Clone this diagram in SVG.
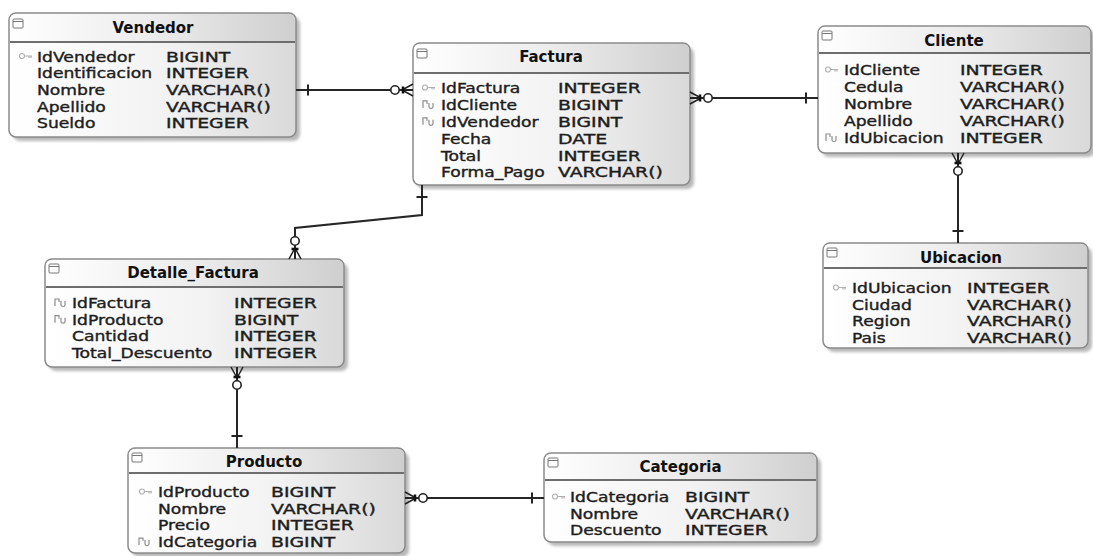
<svg xmlns="http://www.w3.org/2000/svg" xmlns:xlink="http://www.w3.org/1999/xlink" width="1093" height="556" viewBox="0 0 1093 556">
  <defs>
    <linearGradient id="boxFill" x1="0" y1="0" x2="1" y2="0">
      <stop offset="0" stop-color="#ffffff"/>
      <stop offset="0.55" stop-color="#f2f2f2"/>
      <stop offset="1" stop-color="#d9d9d9"/>
    </linearGradient>
    <linearGradient id="headFill" x1="0" y1="0" x2="1" y2="0">
      <stop offset="0" stop-color="#ffffff"/>
      <stop offset="0.5" stop-color="#ececec"/>
      <stop offset="1" stop-color="#cfcfcf"/>
    </linearGradient>
    <filter id="soft" x="-5%" y="-5%" width="110%" height="115%">
      <feGaussianBlur stdDeviation="1.4"/>
    </filter>
    <!-- table window icon -->
    <g id="tblIcon">
      <rect x="0" y="0" width="10" height="9" rx="1" fill="#fff" stroke="#777" stroke-width="1"/>
      <line x1="0" y1="2.5" x2="10" y2="2.5" stroke="#777" stroke-width="1"/>
    </g>
    <!-- primary key icon -->
    <g id="pk" fill="none" stroke="#b0b0b0" stroke-width="1.2">
      <circle cx="3" cy="-5.5" r="2.5"/>
      <path d="M5.5,-5.5 H13 M10,-5.5 V-3.5 M12,-5.5 V-3.5"/>
    </g>
    <!-- foreign key icon -->
    <g id="fk" fill="none" stroke="#8c8c8c" stroke-width="1.2">
      <path d="M1,-2 V-9 H5 V-6"/>
      <path d="M7,-7 V-3 Q7,-1.5 9,-1.5 Q11,-1.5 11,-3 V-7"/>
    </g>
    <!-- zero-or-many end: edge at x=0, connector runs toward -x -->
    <g id="many">
      <path d="M-11,0 L0,-6 M-11,0 L0,0 M-11,0 L0,6" fill="none" stroke="#222" stroke-width="1.5"/>
      <line x1="-10" y1="-3.5" x2="-10" y2="3.5" stroke="#111" stroke-width="2.6"/>
      <circle cx="-18" cy="0" r="4.2" fill="#fff" stroke="#222" stroke-width="1.6"/>
    </g>
    <!-- exactly-one end -->
    <g id="one">
      <line x1="-12" y1="-5.5" x2="-12" y2="5.5" stroke="#222" stroke-width="2"/>
    </g>
  </defs>

  <style>
    .shadow { fill: #b8b8b8; filter: url(#soft); }
    .body { fill: url(#boxFill); stroke: #8a8a8a; stroke-width: 1.5; }
    .head { fill: url(#headFill); }
    .sep { stroke: #6e6e6e; stroke-width: 2; }
    .title { font-family: "DejaVu Sans", Verdana, sans-serif; font-weight: bold; font-size: 15px; fill: #111; text-anchor: middle; }
    .col, .typ { font-family: "DejaVu Sans", Verdana, sans-serif; font-size: 14.3px; fill: #1e1e1e; stroke: #1e1e1e; stroke-width: 0.4; }
    .link { fill: none; stroke: #262626; stroke-width: 2; }
  </style>

  <!-- Vendedor -->
  <g id="vendedor" transform="translate(9,13)">
    <rect class="shadow" x="4" y="4" width="287" height="124" rx="7"/>
    <rect class="body" x="0" y="0" width="287" height="124" rx="7"/>
    <path class="head" d="M1,29 V7 Q1,1 7,1 H280 Q286,1 286,7 V29 Z"/>
    <line class="sep" x1="1" y1="29" x2="286" y2="29"/>
    <use xlink:href="#tblIcon" x="4" y="6"/>
    <text class="title" x="144" y="20">Vendedor</text>
    <use xlink:href="#pk" x="10" y="48.5"/>
    <text class="col" transform="translate(28,48.5) scale(1.2,1)"><tspan x="0" y="0">IdVendedor</tspan><tspan x="0" dy="16.7">Identificacion</tspan><tspan x="0" dy="16.7">Nombre</tspan><tspan x="0" dy="16.7">Apellido</tspan><tspan x="0" dy="16.7">Sueldo</tspan></text>
    <text class="typ" transform="translate(157,48.5) scale(1.32,1)"><tspan x="0" y="0">BIGINT</tspan><tspan x="0" dy="16.7">INTEGER</tspan><tspan x="0" dy="16.7">VARCHAR()</tspan><tspan x="0" dy="16.7">VARCHAR()</tspan><tspan x="0" dy="16.7">INTEGER</tspan></text>
  </g>

  <!-- Factura -->
  <g id="factura" transform="translate(413,43)">
    <rect class="shadow" x="4" y="4" width="277" height="142" rx="7"/>
    <rect class="body" x="0" y="0" width="277" height="142" rx="7"/>
    <path class="head" d="M1,30 V7 Q1,1 7,1 H270 Q276,1 276,7 V30 Z"/>
    <line class="sep" x1="1" y1="30" x2="276" y2="30"/>
    <use xlink:href="#tblIcon" x="4" y="6"/>
    <text class="title" x="138" y="19">Factura</text>
    <use xlink:href="#pk" x="9" y="50"/>
    <use xlink:href="#fk" x="9" y="66.9"/>
    <use xlink:href="#fk" x="9" y="83.8"/>
    <text class="col" transform="translate(28,50) scale(1.2,1)"><tspan x="0" y="0">IdFactura</tspan><tspan x="0" dy="16.9">IdCliente</tspan><tspan x="0" dy="16.9">IdVendedor</tspan><tspan x="0" dy="16.9">Fecha</tspan><tspan x="0" dy="16.9">Total</tspan><tspan x="0" dy="16.9">Forma_Pago</tspan></text>
    <text class="typ" transform="translate(145,50) scale(1.32,1)"><tspan x="0" y="0">INTEGER</tspan><tspan x="0" dy="16.9">BIGINT</tspan><tspan x="0" dy="16.9">BIGINT</tspan><tspan x="0" dy="16.9">DATE</tspan><tspan x="0" dy="16.9">INTEGER</tspan><tspan x="0" dy="16.9">VARCHAR()</tspan></text>
  </g>

  <!-- Cliente -->
  <g id="cliente" transform="translate(818,26)">
    <rect class="shadow" x="4" y="4" width="273" height="127" rx="7"/>
    <rect class="body" x="0" y="0" width="273" height="127" rx="7"/>
    <path class="head" d="M1,27 V7 Q1,1 7,1 H266 Q272,1 272,7 V27 Z"/>
    <line class="sep" x1="1" y1="27" x2="272" y2="27"/>
    <use xlink:href="#tblIcon" x="4" y="5"/>
    <text class="title" x="136" y="20">Cliente</text>
    <use xlink:href="#pk" x="7" y="49"/>
    <use xlink:href="#fk" x="7" y="117"/>
    <text class="col" transform="translate(26,49) scale(1.2,1)"><tspan x="0" y="0">IdCliente</tspan><tspan x="0" dy="17">Cedula</tspan><tspan x="0" dy="17">Nombre</tspan><tspan x="0" dy="17">Apellido</tspan><tspan x="0" dy="17">IdUbicacion</tspan></text>
    <text class="typ" transform="translate(142,49) scale(1.32,1)"><tspan x="0" y="0">INTEGER</tspan><tspan x="0" dy="17">VARCHAR()</tspan><tspan x="0" dy="17">VARCHAR()</tspan><tspan x="0" dy="17">VARCHAR()</tspan><tspan x="0" dy="17">INTEGER</tspan></text>
  </g>

  <!-- Detalle_Factura -->
  <g id="detalle_factura" transform="translate(45,259)">
    <rect class="shadow" x="4" y="4" width="299" height="108" rx="7"/>
    <rect class="body" x="0" y="0" width="299" height="108" rx="7"/>
    <path class="head" d="M1,28 V7 Q1,1 7,1 H292 Q298,1 298,7 V28 Z"/>
    <line class="sep" x1="1" y1="28" x2="298" y2="28"/>
    <use xlink:href="#tblIcon" x="4" y="5"/>
    <text class="title" x="148" y="19">Detalle_Factura</text>
    <use xlink:href="#fk" x="9" y="49"/>
    <use xlink:href="#fk" x="9" y="65.7"/>
    <text class="col" transform="translate(27,49) scale(1.2,1)"><tspan x="0" y="0">IdFactura</tspan><tspan x="0" dy="16.7">IdProducto</tspan><tspan x="0" dy="16.7">Cantidad</tspan><tspan x="0" dy="16.7">Total_Descuento</tspan></text>
    <text class="typ" transform="translate(189,49) scale(1.32,1)"><tspan x="0" y="0">INTEGER</tspan><tspan x="0" dy="16.7">BIGINT</tspan><tspan x="0" dy="16.7">INTEGER</tspan><tspan x="0" dy="16.7">INTEGER</tspan></text>
  </g>

  <!-- Ubicacion -->
  <g id="ubicacion" transform="translate(823,243)">
    <rect class="shadow" x="4" y="4" width="265" height="105" rx="7"/>
    <rect class="body" x="0" y="0" width="265" height="105" rx="7"/>
    <path class="head" d="M1,25 V7 Q1,1 7,1 H258 Q264,1 264,7 V25 Z"/>
    <line class="sep" x1="1" y1="25" x2="264" y2="25"/>
    <use xlink:href="#tblIcon" x="4" y="5"/>
    <text class="title" x="138" y="19.5">Ubicacion</text>
    <use xlink:href="#pk" x="10" y="50"/>
    <text class="col" transform="translate(29,50) scale(1.2,1)"><tspan x="0" y="0">IdUbicacion</tspan><tspan x="0" dy="16.7">Ciudad</tspan><tspan x="0" dy="16.7">Region</tspan><tspan x="0" dy="16.7">Pais</tspan></text>
    <text class="typ" transform="translate(144,50) scale(1.32,1)"><tspan x="0" y="0">INTEGER</tspan><tspan x="0" dy="16.7">VARCHAR()</tspan><tspan x="0" dy="16.7">VARCHAR()</tspan><tspan x="0" dy="16.7">VARCHAR()</tspan></text>
  </g>

  <!-- Producto -->
  <g id="producto" transform="translate(128,448)">
    <rect class="shadow" x="4" y="4" width="277" height="105" rx="7"/>
    <rect class="body" x="0" y="0" width="277" height="105" rx="7"/>
    <path class="head" d="M1,25 V7 Q1,1 7,1 H270 Q276,1 276,7 V25 Z"/>
    <line class="sep" x1="1" y1="25" x2="276" y2="25"/>
    <use xlink:href="#tblIcon" x="4" y="5"/>
    <text class="title" x="136" y="19">Producto</text>
    <use xlink:href="#pk" x="11" y="49"/>
    <use xlink:href="#fk" x="10" y="99.1"/>
    <text class="col" transform="translate(30,49) scale(1.2,1)"><tspan x="0" y="0">IdProducto</tspan><tspan x="0" dy="16.7">Nombre</tspan><tspan x="0" dy="16.7">Precio</tspan><tspan x="0" dy="16.7">IdCategoria</tspan></text>
    <text class="typ" transform="translate(143,49) scale(1.32,1)"><tspan x="0" y="0">BIGINT</tspan><tspan x="0" dy="16.7">VARCHAR()</tspan><tspan x="0" dy="16.7">INTEGER</tspan><tspan x="0" dy="16.7">BIGINT</tspan></text>
  </g>

  <!-- Categoria -->
  <g id="categoria" transform="translate(544,453)">
    <rect class="shadow" x="4" y="4" width="273" height="89" rx="7"/>
    <rect class="body" x="0" y="0" width="273" height="89" rx="7"/>
    <path class="head" d="M1,27 V7 Q1,1 7,1 H266 Q272,1 272,7 V27 Z"/>
    <line class="sep" x1="1" y1="27" x2="272" y2="27"/>
    <use xlink:href="#tblIcon" x="4" y="5"/>
    <text class="title" x="136.5" y="19">Categoria</text>
    <use xlink:href="#pk" x="8" y="49"/>
    <text class="col" transform="translate(26,49) scale(1.2,1)"><tspan x="0" y="0">IdCategoria</tspan><tspan x="0" dy="16.7">Nombre</tspan><tspan x="0" dy="16.7">Descuento</tspan></text>
    <text class="typ" transform="translate(141,49) scale(1.32,1)"><tspan x="0" y="0">BIGINT</tspan><tspan x="0" dy="16.7">VARCHAR()</tspan><tspan x="0" dy="16.7">INTEGER</tspan></text>
  </g>

  <!-- Relationships -->
  <g id="connectors">
    <path class="link" d="M296,90 H413"/>
    <use xlink:href="#one" transform="translate(296,90) rotate(180)"/>
    <use xlink:href="#many" transform="translate(413,90)"/>

    <path class="link" d="M690,98 H818"/>
    <use xlink:href="#many" transform="translate(690,98) rotate(180)"/>
    <use xlink:href="#one" transform="translate(818,98)"/>

    <path class="link" d="M958,153 V243"/>
    <use xlink:href="#many" transform="translate(958,153) rotate(-90)"/>
    <use xlink:href="#one" transform="translate(958,243) rotate(90)"/>

    <path class="link" d="M422,185 V215 L295,228 V259"/>
    <use xlink:href="#one" transform="translate(422,185) rotate(-90)"/>
    <use xlink:href="#many" transform="translate(295,259) rotate(90)"/>

    <path class="link" d="M237,367 V448"/>
    <use xlink:href="#many" transform="translate(237,367) rotate(-90)"/>
    <use xlink:href="#one" transform="translate(237,448) rotate(90)"/>

    <path class="link" d="M405,498 H544"/>
    <use xlink:href="#many" transform="translate(405,498) rotate(180)"/>
    <use xlink:href="#one" transform="translate(544,498)"/>
  </g>
</svg>
